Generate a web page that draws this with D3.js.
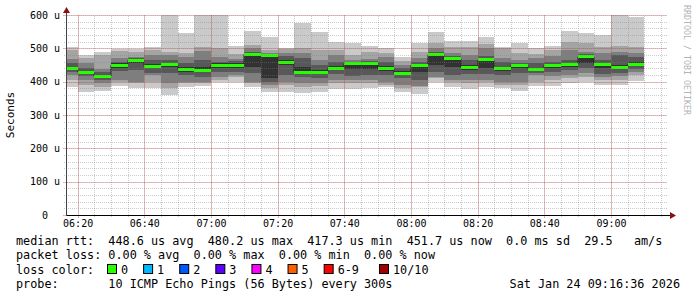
<!DOCTYPE html>
<html>
<head>
<meta charset="utf-8">
<script src="https://cdn.jsdelivr.net/npm/d3@7"></script>
<style>
body { margin: 0; background: #fff; }
text { font-family: "DejaVu Sans Mono", monospace; white-space: pre; }
</style>
</head>
<body>
<svg id="chart"></svg>
<script>
// bin end times (5 minute steps), values in microseconds
var times = ["06:20","06:25","06:30","06:35","06:40","06:45","06:50","06:55","07:00","07:05",
  "07:10","07:15","07:20","07:25","07:30","07:35","07:40","07:45","07:50","07:55",
  "08:00","08:05","08:10","08:15","08:20","08:25","08:30","08:35","08:40","08:45",
  "08:50","08:55","09:00","09:05","09:10"];

// sorted pings per bin, lowest (ping1) to highest (ping10)
var ping1 = [385,370,373,387,380,380,360,383,388,400,400,383,370,370,367,370,377,377,380,383,370,363,400,385,377,385,380,373,387,387,395,400,390,390,402];
var ping2 = [405,390,385,400,395,400,380,395,395,405,413,395,380,390,383,387,395,395,395,390,380,383,410,400,395,400,390,390,400,405,410,415,405,405,420];
var ping3 = [420,405,395,405,400,420,395,400,400,415,420,400,390,400,395,395,405,405,405,400,390,387,415,405,405,405,400,400,420,417,420,427,415,417,430];
var ping4 = [430,417,405,433,435,427,425,420,413,430,430,425,400,420,413,410,423,417,420,420,410,405,430,420,423,423,420,425,427,430,435,440,423,425,437];
var ping5 = [437,425,414,440,455,442,445,430,430,442,440,445,410,450,423,423,435,437,437,433,420,430,450,445,435,440,433,440,433,440,445,455,440,437,447];
var ping6 = [445,433,420,455,465,453,455,445,445,455,457,484,480,465,445,435,447,457,458,447,432,452,482,472,450,468,445,450,440,452,455,476,455,450,460];
var ping7 = [457,440,428,460,470,465,465,455,465,460,462,488,483,477,470,450,460,460,462,460,440,458,488,478,465,478,460,457,455,460,465,482,465,480,475];
var ping8 = [467,455,437,470,475,480,480,475,493,475,467,500,487,487,485,465,480,465,467,475,450,470,500,485,480,500,470,465,470,477,495,490,485,490,485];
var ping9 = [495,470,480,493,490,495,490,485,505,500,482,510,495,497,500,495,495,480,490,487,462,490,515,505,505,513,500,485,483,495,520,515,505,507,503];
var ping10 = [503,480,490,497,497,503,600,545,600,600,507,552,535,502,577,550,520,515,507,502,475,515,550,522,522,535,503,517,500,507,552,545,540,600,593];
var median = [440,428,417,450,464,447,451,437,434,449,450,482,477,458,429,427,440,454,455,440,426,449,480,469,442,465,440,449,438,449,453,474,452,443,452];

var timeLabels = ["06:20","06:40","07:00","07:20","07:40","08:00","08:20","08:40","09:00"];
var yTicks = [0,100,200,300,400,500,600];

var lossLabels = ["0","1","2","3","4","5","6-9","10/10"];
var lossColors = ["#26ff00","#00b8ff","#0059ff","#5e00ff","#ff00ff","#ff5e00","#ff0000","#a10000"];

var legendLines = [
  "median rtt:  448.6 us avg  480.2 us max  417.3 us min  451.7 us now  0.0 ms sd  29.5   am/s",
  "packet loss: 0.00 % avg  0.00 % max  0.00 % min  0.00 % now"
];
var probeText = "probe:       10 ICMP Echo Pings (56 Bytes) every 300s";
var stampText = "Sat Jan 24 09:16:36 2026";

var width = 697, height = 297;
var svg = d3.select('#chart').attr('width', width).attr('height', height);

var day = function(hm) {
  var p = hm.split(':');
  return new Date(2026, 0, 24, +p[0], +p[1]);
};

var xScale = d3.scaleTime()
  .domain([new Date(2026,0,24,6,16,40), new Date(2026,0,24,9,16,40)])
  .range([66.5, 666.5]);
var yScale = d3.scaleLinear().domain([0, 600]).range([215, 15]);

var pings = [ping1,ping2,ping3,ping4,ping5,ping6,ping7,ping8,ping9,ping10];
var smokeGrays = ['#cacaca','#a4a4a4','#7e7e7e','#585858','#323232'];

svg.append('clipPath').attr('id', 'plotclip')
  .append('rect').attr('x', 67).attr('y', 0).attr('width', 600).attr('height', 215);

var plot = svg.append('g').attr('clip-path', 'url(#plotclip)');

var bx0 = function(i) { return Math.round(xScale(d3.timeMinute.offset(day(times[i]), -5))); };
var bx1 = function(i) { return Math.round(xScale(day(times[i]))); };

// smoke, outer pair first
smokeGrays.forEach(function(col, k) {
  plot.append('g').selectAll('rect')
    .data(times)
    .enter().append('rect')
    .attr('x', function(d, i) { return bx0(i); })
    .attr('width', function(d, i) { return bx1(i) - bx0(i); })
    .attr('y', function(d, i) { return Math.round(yScale(pings[9-k][i])); })
    .attr('height', function(d, i) { return Math.round(yScale(pings[k][i])) - Math.round(yScale(pings[9-k][i])); })
    .attr('fill', col)
    .attr('shape-rendering', 'crispEdges');
});

// grid
var gMinX = svg.append('g').attr('transform', 'translate(0,217)')
  .call(d3.axisBottom(xScale).ticks(d3.timeMinute.every(5)).tickSize(-202).tickFormat(''));
var gMinY = svg.append('g').attr('transform', 'translate(64,0)')
  .call(d3.axisLeft(yScale).tickValues(d3.range(0, 601, 20)).tickSize(-603).tickFormat(''));
[gMinX, gMinY].forEach(function(g) {
  g.select('.domain').remove();
  g.selectAll('line').attr('stroke', 'rgba(128,128,128,0.4)').attr('stroke-dasharray', '1,1')
    .attr('shape-rendering', 'crispEdges');
});
var gMajX = svg.append('g').attr('transform', 'translate(0,218)')
  .call(d3.axisBottom(xScale).tickValues(timeLabels.map(day)).tickSize(-203).tickFormat(''));
var gMajY = svg.append('g').attr('transform', 'translate(63,0)')
  .call(d3.axisLeft(yScale).tickValues(yTicks).tickSize(-604).tickFormat(''));
[gMajX, gMajY].forEach(function(g) {
  g.select('.domain').remove();
  g.selectAll('line').attr('stroke', 'rgba(210,50,50,0.45)').attr('stroke-dasharray', '1,1')
    .attr('shape-rendering', 'crispEdges');
});

// median step line
var medPts = [];
times.forEach(function(t, i) {
  medPts.push([bx0(i), yScale(median[i])]);
  medPts.push([bx1(i), yScale(median[i])]);
});
plot.append('path')
  .attr('d', d3.line()(medPts))
  .attr('fill', 'none').attr('stroke', '#202020').attr('stroke-width', 1);

plot.append('g').selectAll('rect')
  .data(median)
  .enter().append('rect')
  .attr('x', function(d, i) { return bx0(i); })
  .attr('width', function(d, i) { return bx1(i) - bx0(i); })
  .attr('y', function(d) { return Math.round(yScale(d) - 1.5); })
  .attr('height', 3)
  .attr('fill', lossColors[0])
  .attr('shape-rendering', 'crispEdges');

// axes lines + arrows
svg.append('line').attr('x1', 66).attr('x2', 671).attr('y1', 215.5).attr('y2', 215.5)
  .attr('stroke', '#000');
svg.append('line').attr('x1', 66.5).attr('x2', 66.5).attr('y1', 216).attr('y2', 10)
  .attr('stroke', '#444');
svg.append('path').attr('d', 'M670,212L676,215.5L670,219Z').attr('fill', '#8b1010');
svg.append('path').attr('d', 'M63,13L66.5,7L70,13Z').attr('fill', '#8b1010');

// tick labels
var xLab = svg.append('g').attr('transform', 'translate(0,215)')
  .call(d3.axisBottom(xScale).tickValues(timeLabels.map(day)).tickSize(0).tickPadding(5)
    .tickFormat(d3.timeFormat('%H:%M')));
var yLab = svg.append('g').attr('transform', 'translate(60,0)')
  .call(d3.axisLeft(yScale).tickValues(yTicks).tickSize(0).tickPadding(0)
    .tickFormat(function(d) { return d === 0 ? '0  ' : d + ' u'; }));
[xLab, yLab].forEach(function(g) {
  g.select('.domain').remove();
  g.selectAll('text').attr('font-family', '"DejaVu Sans Mono", monospace')
    .attr('font-size', 10).attr('fill', '#000');
});

svg.append('text').attr('transform', 'translate(14,115) rotate(-90)')
  .attr('text-anchor', 'middle').attr('font-size', 11).text('Seconds');

svg.append('text').attr('transform', 'translate(684,5) rotate(90)')
  .attr('font-size', 8.3).attr('fill', '#b4b4b4').text('RRDTOOL / TOBI OETIKER');

// legend
legendLines.forEach(function(t, i) {
  svg.append('text').attr('x', 16).attr('y', 245 + i * 14.3)
    .attr('font-size', 11.8).text(t);
});
svg.append('text').attr('x', 16).attr('y', 273.5).attr('font-size', 11.8).text('loss color:');
var lx = 107;
lossLabels.forEach(function(lab, i) {
  svg.append('rect').attr('x', lx + 0.5).attr('y', 264.5).attr('width', 9).attr('height', 9)
    .attr('fill', lossColors[i]).attr('stroke', '#000').attr('stroke-width', 1);
  var t = svg.append('text').attr('x', lx + 14).attr('y', 273.5).attr('font-size', 11.8).text(lab);
  lx += 14 + t.node().getComputedTextLength() + 15 + 2.5 * (lab.length - 1);
});
svg.append('text').attr('x', 16).attr('y', 287.5).attr('font-size', 11.8).text(probeText);
svg.append('text').attr('x', 680).attr('y', 287.5).attr('text-anchor', 'end')
  .attr('font-size', 11.8).text(stampText);
</script>
</body>
</html>
